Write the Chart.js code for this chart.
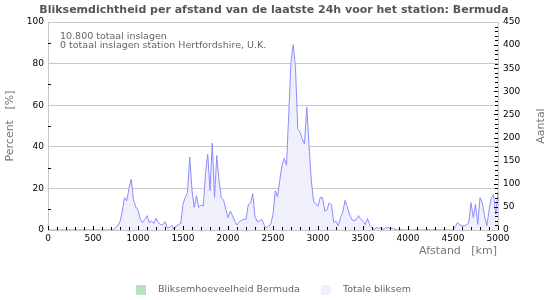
<!DOCTYPE html>
<html>
<head>
<meta charset="utf-8">
<script src="https://cdn.jsdelivr.net/npm/chart.js@4/dist/chart.umd.min.js"></script>
<style>
    html, body { margin: 0; padding: 0; background: #fff; }
    #wrap { width: 550px; height: 300px; }
</style>
</head>
<body>
<div id="wrap"><canvas id="chart" width="550" height="300"></canvas></div>
<script>
const chartTitle = 'Bliksemdichtheid per afstand van de laatste 24h voor het station: Bermuda';
const infoLines = ['10.800 totaal inslagen', '0 totaal inslagen station Hertfordshire, U.K.'];
const seriesLabels = ['Bliksemhoeveelheid Bermuda', 'Totale bliksem'];

// strikes per 25 km distance bin, 0 .. 5000 km
const binWidth = 25;
const totalStrikes = [
    0, 0, 0, 0, 0, 0, 0, 0, 0, 0, 0, 0, 0, 0, 0, 0, 0, 0, 0, 0, 0, 0, 0, 0, 0, 0, 0, 0, 0,
    0, 5, 9, 18, 40, 70, 63, 90, 110, 65, 50,
    43, 23, 16, 23, 31, 16, 20, 14, 25, 16, 12, 11, 18, 5, 5, 10, 1, 9, 12, 14,
    56, 70, 81, 158, 86, 49, 74, 49, 54, 52, 122, 164, 85, 188, 70, 161, 107, 70, 65, 45,
    27, 41, 31, 19, 11, 18, 21, 23, 23, 54, 59, 79, 29, 18, 20, 23, 12, 5, 9, 12,
    34, 85, 72, 107, 140, 155, 140, 252, 364, 401, 349, 219, 212, 197, 186, 266, 183, 108, 63, 56,
    52, 70, 70, 41, 44, 59, 54, 16, 19, 9, 27, 38, 64, 50, 34, 23, 20, 23, 31, 23,
    19, 12, 25, 10, 5, 1, 5, 4, 5, 1, 5, 5, 4, 4, 2, 0, 0, 1, 0, 0,
    0, 0, 0, 0, 1, 0, 0, 0, 0, 1, 0, 0, 1, 0, 0, 0, 0, 0, 0, 0,
    0, 7, 16, 11, 9, 9, 11, 16, 59, 27, 56, 12, 70, 59, 31, 9, 41, 70, 77, 34,
    81
];
const stationStrikes = []; // no strikes recorded by the station itself

const percentTicks = [0, 20, 40, 60, 80, 100];
const countTicks = [0, 50, 100, 150, 200, 250, 300, 350, 400, 450];
const distanceTicks = [0, 500, 1000, 1500, 2000, 2500, 3000, 3500, 4000, 4500, 5000];

const distances = totalStrikes.map((_, i) => i * binWidth);
const colors = ['#b8e2b8', '#f0f0fd'];

const tickFont = { family: 'DejaVu Sans', size: 9 };

const decorPlugin = {
    id: 'decor',
    afterDraw(chart) {
        const { ctx, chartArea: a, scales } = chart;
        ctx.save();

        // small inward tick marks
        ctx.strokeStyle = '#000';
        ctx.lineWidth = 1;
        ctx.beginPath();
        for (let v = 0; v <= scales.x.max; v += 100) {
            const x = Math.round(scales.x.getPixelForValue(v)) + 0.5;
            const len = v % 500 === 0 ? 4 : 3;
            ctx.moveTo(x, a.bottom);
            ctx.lineTo(x, a.bottom - len);
        }
        for (let v = 10; v < scales.y.max; v += 20) {
            const y = Math.round(scales.y.getPixelForValue(v)) + 0.5;
            ctx.moveTo(a.left, y);
            ctx.lineTo(a.left + 3, y);
        }
        for (let v = 10; v < scales.y1.max; v += 10) {
            const y = Math.round(scales.y1.getPixelForValue(v)) + 0.5;
            const len = v % 50 === 0 ? 4 : 3;
            ctx.moveTo(a.right - len, y);
            ctx.lineTo(a.right, y);
        }
        ctx.stroke();

        // title
        ctx.fillStyle = '#555';
        ctx.font = 'bold 11px "DejaVu Sans"';
        ctx.textAlign = 'center';
        ctx.textBaseline = 'middle';
        ctx.fillText(chartTitle, 274, 10);

        // info lines
        ctx.fillStyle = '#666';
        ctx.font = '9.5px "DejaVu Sans"';
        ctx.textAlign = 'left';
        ctx.textBaseline = 'alphabetic';
        infoLines.forEach((t, i) => ctx.fillText(t, 60, 38.5 + i * 9.5));

        // axis titles
        ctx.fillStyle = '#777';
        ctx.font = '11px "DejaVu Sans"';
        ctx.textAlign = 'right';
        ctx.textBaseline = 'middle';
        ctx.fillText('Afstand   [km]', 497, 251);

        ctx.textAlign = 'center';
        ctx.save();
        ctx.translate(10, (a.top + a.bottom) / 2);
        ctx.rotate(-Math.PI / 2);
        ctx.fillText('Percent   [%]', 0, 0);
        ctx.restore();

        ctx.save();
        ctx.translate(541, (a.top + a.bottom) / 2);
        ctx.rotate(-Math.PI / 2);
        ctx.fillText('Aantal', 0, 0);
        ctx.restore();

        // legend
        const legendX = [136, 321];
        ctx.font = '9.5px "DejaVu Sans"';
        ctx.textAlign = 'left';
        chart.data.datasets.forEach((ds, i) => {
            ctx.fillStyle = colors[i];
            ctx.fillRect(legendX[i], 285, 10, 10);
            ctx.fillStyle = '#666';
            ctx.fillText(ds.label, legendX[i] + 22, 290);
        });

        ctx.restore();
    }
};

new Chart(document.getElementById('chart'), {
    type: 'line',
    data: {
        datasets: [
            {
                label: seriesLabels[0],
                data: stationStrikes.map((v, i) => ({ x: distances[i], y: v })),
                yAxisID: 'y',
                backgroundColor: colors[0],
                borderWidth: 0,
                pointRadius: 0,
                fill: 'origin'
            },
            {
                label: seriesLabels[1],
                data: totalStrikes.map((v, i) => ({ x: distances[i], y: v })),
                yAxisID: 'y1',
                borderColor: '#8c8cff',
                borderWidth: 1,
                backgroundColor: colors[1],
                pointRadius: 0,
                tension: 0,
                fill: 'origin'
            }
        ]
    },
    options: {
        responsive: false,
        animation: false,
        devicePixelRatio: 1,
        layout: { padding: { left: 0, right: 0, top: 22, bottom: 50 } },
        plugins: {
            legend: { display: false },
            title: { display: false },
            tooltip: { enabled: false }
        },
        scales: {
            x: {
                type: 'linear',
                min: 0,
                max: 5000,
                afterFit: s => { s.height = 20; },
                afterBuildTicks: s => { s.ticks = distanceTicks.map(v => ({ value: v })); },
                ticks: { color: '#000', font: tickFont, padding: 3, maxRotation: 0, autoSkip: false, callback: v => String(v) },
                grid: { drawOnChartArea: false, drawTicks: false },
                border: { color: '#c8c8c8' }
            },
            y: {
                position: 'left',
                min: 0,
                max: 100,
                afterFit: s => { s.width = 48; },
                afterBuildTicks: s => { s.ticks = percentTicks.map(v => ({ value: v })); },
                ticks: { color: '#000', font: tickFont, padding: 4, callback: v => String(v) },
                grid: { color: '#c8c8c8', drawTicks: false },
                border: { color: '#c8c8c8' }
            },
            y1: {
                position: 'right',
                min: 0,
                max: 450,
                afterFit: s => { s.width = 52; },
                afterBuildTicks: s => { s.ticks = countTicks.map(v => ({ value: v })); },
                ticks: { color: '#000', font: tickFont, padding: 5, callback: v => String(v) },
                grid: { drawOnChartArea: false, drawTicks: false },
                border: { color: '#c8c8c8' }
            }
        }
    },
    plugins: [decorPlugin]
});
</script>
</body>
</html>
